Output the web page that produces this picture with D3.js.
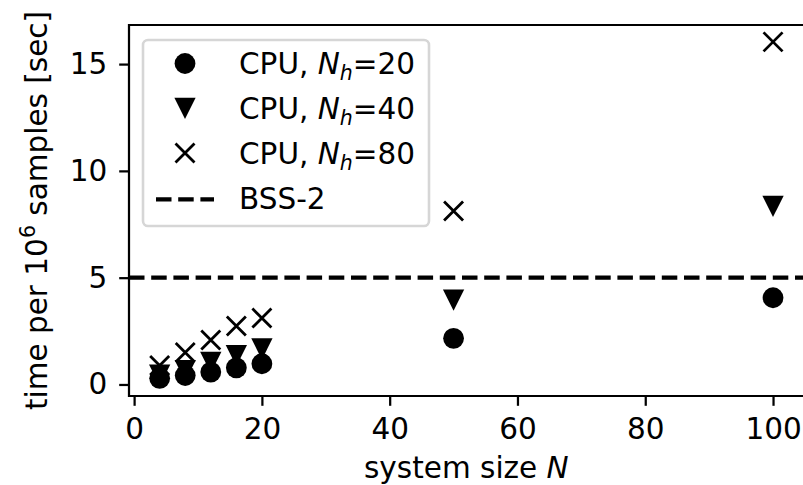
<!DOCTYPE html>
<html>
<head>
<meta charset="utf-8">
<script src="https://cdn.jsdelivr.net/npm/d3@7"></script>
<style>
  body { margin: 0; background: #fff; }
  svg { display: block; font-family: "DejaVu Sans", sans-serif; }
</style>
</head>
<body>
<div id="chart"></div>
<script>
// datos
var sizes = [4, 8, 12, 16, 20, 50, 100];
var cpu20 = [0.29, 0.42, 0.58, 0.78, 0.97, 2.16, 4.06];
var cpu40 = [0.44, 0.65, 1.03, 1.35, 1.66, 3.95, 8.34];
var cpu80 = [0.89, 1.50, 2.08, 2.74, 3.11, 8.12, 16.04];
var bss2 = 5;
var xTicks = [0, 20, 40, 60, 80, 100];
var yTicks = [0, 5, 10, 15];
var legendLabels = ["20", "40", "80"];

function grafica() {
  var W = 803, H = 485;
  var fs = 29.5, lw = 2.24, tickLen = 9.8, tickPad = 12;
  var margin = { left: 129, right: 803.7, top: 25, bottom: 396 };

  var svg = d3.select("#chart").append("svg")
    .attr("width", W).attr("height", H);

  var x = d3.scaleLinear().domain([-0.8, 104.8]).range([margin.left, margin.right]);
  var y = d3.scaleLinear().domain([-0.54, 16.83]).range([margin.bottom, margin.top]);

  // marcadores
  function circlePath(r) {
    var p = d3.path();
    p.arc(0, 0, r, 0, 2 * Math.PI);
    return p.toString();
  }
  function triPath(s) {
    var h = s / 2;
    return "M0," + h + "L" + (-h) + "," + (-h) + "L" + h + "," + (-h) + "Z";
  }
  function xPath(s) {
    var h = s / 2;
    return "M" + (-h) + "," + (-h) + "L" + h + "," + h + "M" + (-h) + "," + h + "L" + h + "," + (-h);
  }

  var markers = [
    { d: circlePath(10.4), fill: "#000", stroke: "none", sw: 0 },
    { d: triPath(21.3), fill: "#000", stroke: "none", sw: 0 },
    { d: xPath(19), fill: "none", stroke: "#000", sw: 2.8 }
  ];
  var series = [cpu20, cpu40, cpu80];

  // linea BSS-2
  svg.append("line")
    .attr("x1", margin.left).attr("x2", margin.right)
    .attr("y1", y(bss2)).attr("y2", y(bss2))
    .attr("stroke", "#000").attr("stroke-width", 4.2)
    .attr("stroke-dasharray", "15.5,6.7");

  // puntos
  series.forEach(function (vals, i) {
    var m = markers[i];
    svg.append("g").selectAll("path")
      .data(vals)
      .enter().append("path")
      .attr("d", m.d)
      .attr("transform", function (d, j) { return "translate(" + x(sizes[j]) + "," + y(d) + ")"; })
      .attr("fill", m.fill)
      .attr("stroke", m.stroke)
      .attr("stroke-width", m.sw);
  });

  // ejes
  var xAxis = svg.append("g")
    .attr("transform", "translate(0," + margin.bottom + ")")
    .call(d3.axisBottom(x).tickValues(xTicks).tickSize(tickLen).tickPadding(tickPad).tickSizeOuter(0));
  var yAxis = svg.append("g")
    .attr("transform", "translate(" + margin.left + ",0)")
    .call(d3.axisLeft(y).tickValues(yTicks).tickSize(tickLen).tickPadding(tickPad).tickSizeOuter(0));
  [xAxis, yAxis].forEach(function (a) {
    a.attr("font-size", fs).attr("font-family", "'DejaVu Sans', sans-serif");
    a.select(".domain").remove();
    a.selectAll("line").attr("stroke", "#000").attr("stroke-width", lw);
    a.selectAll("text").attr("fill", "#000");
  });

  // spines
  svg.append("path")
    .attr("d", "M" + margin.left + "," + margin.bottom + "L" + margin.left + "," + margin.top +
      "L" + W + "," + margin.top + "M" + margin.left + "," + margin.bottom + "L" + W + "," + margin.bottom)
    .attr("fill", "none").attr("stroke", "#000").attr("stroke-width", lw)
    .attr("stroke-linecap", "square");

  // etiquetas
  var xl = svg.append("text")
    .attr("x", (margin.left + margin.right) / 2).attr("y", 478)
    .attr("text-anchor", "middle").style("font-size", fs + "px");
  xl.append("tspan").text("system size ");
  xl.append("tspan").style("font-style", "italic").text("N");

  var yl = svg.append("text")
    .attr("transform", "translate(47," + (margin.top + margin.bottom) / 2 + ") rotate(-90)")
    .attr("text-anchor", "middle").style("font-size", fs + "px");
  yl.append("tspan").text("time per 10");
  yl.append("tspan").attr("dy", -12).style("font-size", "20.5px").text("6");
  yl.append("tspan").attr("dy", 12).text(" samples [sec]");

  // leyenda
  var lg = svg.append("g");
  lg.append("rect")
    .attr("x", 143).attr("y", 40).attr("width", 286).attr("height", 186)
    .attr("rx", 5).attr("fill", "#fff").attr("fill-opacity", 0.8)
    .attr("stroke", "#d6d6d6").attr("stroke-width", 2.6);

  var rowY = function (i) { return 63.5 + 44.8 * i; };
  legendLabels.forEach(function (lab, i) {
    var m = markers[i];
    lg.append("path").attr("d", m.d)
      .attr("transform", "translate(185," + rowY(i) + ")")
      .attr("fill", m.fill).attr("stroke", m.stroke).attr("stroke-width", m.sw);
    var t = lg.append("text").attr("x", 239).attr("y", rowY(i) + 10.8)
      .style("font-size", fs + "px");
    t.append("tspan").text("CPU, ");
    t.append("tspan").style("font-style", "italic").text("N");
    t.append("tspan").attr("dy", 6).style("font-style", "italic").style("font-size", "20.5px").text("h");
    t.append("tspan").attr("dy", -6).text("=" + lab);
  });
  lg.append("line")
    .attr("x1", 156).attr("x2", 214)
    .attr("y1", rowY(3) + 1.5).attr("y2", rowY(3) + 1.5)
    .attr("stroke", "#000").attr("stroke-width", 4.2)
    .attr("stroke-dasharray", "15.5,6.7");
  lg.append("text").attr("x", 239).attr("y", rowY(3) + 10.8)
    .style("font-size", fs + "px").text("BSS-2");
}

grafica();
</script>
</body>
</html>
